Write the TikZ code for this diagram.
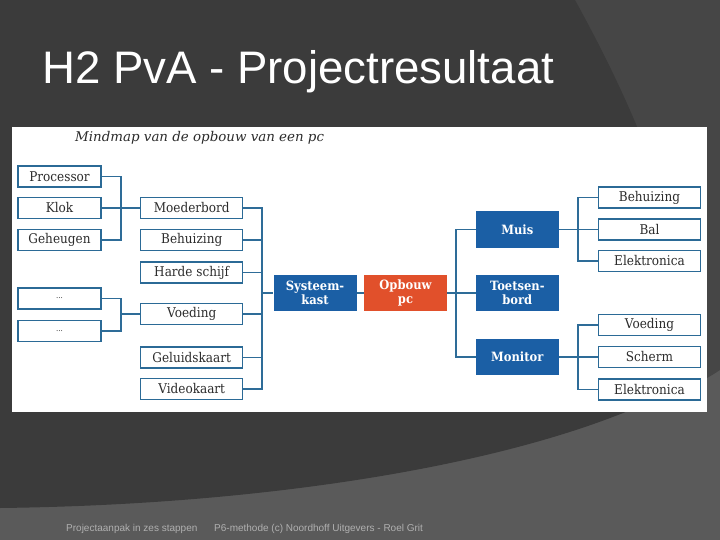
\documentclass[tikz,border=0pt]{standalone}
\usepackage{fontspec}
\setmainfont{Liberation Sans}
\newfontfamily\mmfont[FakeStretch=0.9]{DejaVu Serif}
\newfontfamily\mmtitlefont{DejaVu Serif}
\definecolor{bgdark}{HTML}{3B3B3B}
\definecolor{bgmid}{HTML}{464646}
\definecolor{bglight}{HTML}{5A5A5A}
\definecolor{boxline}{HTML}{2B6A96}
\definecolor{lineblue}{HTML}{2E6C98}
\definecolor{fillblue}{HTML}{1B5FA5}
\definecolor{fillred}{HTML}{E1502B}
\definecolor{textdark}{HTML}{2C2C2C}
\definecolor{footgray}{HTML}{B0B0B0}
\begin{document}
\begin{tikzpicture}[x=1pt,y=-1pt,
  wbox/.style={draw=boxline, line width=1.3pt, fill=white, minimum height=21pt, inner sep=0pt,
    font=\mmfont\fontsize{13.4}{14}\selectfont, text=textdark},
  lbox/.style={wbox, minimum width=83pt},
  mbox/.style={wbox, minimum width=102pt},
  cbox/.style={minimum width=83pt, minimum height=36pt, inner sep=0pt, align=center,
    font=\mmfont\bfseries\fontsize{12.8}{13.6}\selectfont, text=white},
  bbox/.style={cbox, fill=fillblue},
  rbox/.style={cbox, fill=fillred},
  conn/.style={draw=lineblue, line width=1.3pt}
]
\useasboundingbox (0,0) rectangle (720,540);
% background
\fill[bglight] (0,0) rectangle (720,540);
\fill[bgmid] (540,0) -- (720,0) -- (720,370) .. controls (690,390) and (650,405) .. (600,420) -- cycle;
\fill[bgdark] (0,0) -- (575,0) .. controls (630,100) and (690,230) .. (680,330)
  .. controls (672,380) and (650,400) .. (623,413)
  .. controls (480,470) and (250,505) .. (0,508) -- cycle;
% title
\node[anchor=base west, inner sep=0pt, text=white, font=\fontsize{45.6}{50}\selectfont] (title) at (42,83.5) {H2 PvA - Projectresultaat};
% picture
\fill[white] (12,127) rectangle (707,412);
\node[anchor=base west, inner sep=0pt, text=textdark, font=\mmtitlefont\itshape\fontsize{13.4}{15}\selectfont] (mmtitle) at (75,141.5) {Mindmap van de opbouw van een pc};
% left column
\node[lbox] (proc) at (59.5,176.5) {Processor};
\node[lbox] (klok) at (59.5,208) {Klok};
\node[lbox] (geh) at (59.5,240) {Geheugen};
\node[lbox] (d1) at (59.5,298.5) {\fontsize{8}{9}\selectfont ...};
\node[lbox] (d2) at (59.5,331) {\fontsize{8}{9}\selectfont ...};
% second column
\node[mbox] (moed) at (191.7,208) {Moederbord};
\node[mbox] (behu) at (191.7,240) {Behuizing};
\node[mbox] (hard) at (191.7,272.5) {Harde schijf};
\node[mbox] (voed) at (191.7,314) {Voeding};
\node[mbox] (geluid) at (191.7,357.5) {Geluidskaart};
\node[mbox] (video) at (191.7,389) {Videokaart};
% center
\node[bbox] (sys) at (315,293) {Systeem-\\kast};
\node[rbox, minimum width=82.4pt] (opb) at (405.5,293) {Opbouw\\pc};
% right inner
\node[bbox] (muis) at (517.3,229.5) {Muis};
\node[bbox] (toets) at (517.3,293) {Toetsen-\\bord};
\node[bbox] (mon) at (517.3,357) {Monitor};
% right column
\node[mbox] (mbeh) at (649.5,197.5) {Behuizing};
\node[mbox] (bal) at (649.5,229.5) {Bal};
\node[mbox] (mel) at (649.5,261) {Elektronica};
\node[mbox] (mvoed) at (649.5,325) {Voeding};
\node[mbox] (scherm) at (649.5,357) {Scherm};
\node[mbox] (monel) at (649.5,389.5) {Elektronica};
% junctions
\coordinate (j1) at (121,208);
\coordinate (j2) at (121,314);
\coordinate (j3) at (262,293);
\coordinate (j4) at (456,293);
\coordinate (j5) at (578,229.5);
\coordinate (j6) at (578,357);
% connectors
\draw[conn] (proc.east) -| (j1);
\draw[conn] (geh.east) -| (j1);
\draw[conn] (klok.east) -- (moed.west);
\draw[conn] (d1.east) -| (j2);
\draw[conn] (d2.east) -| (j2);
\draw[conn] (j2) -- (voed.west);
\draw[conn] (moed.east) -| (j3);
\draw[conn] (video.east) -| (j3);
\draw[conn] (behu.east) -- (behu.east -| j3);
\draw[conn] (hard.east) -- (hard.east -| j3);
\draw[conn] (voed.east) -- (voed.east -| j3);
\draw[conn] (geluid.east) -- (geluid.east -| j3);
\draw[conn] (j3) -- (sys.west);
\draw[conn] (sys.east) -- (opb.west);
\draw[conn] (opb.east) -- (j4);
\draw[conn] (muis.west) -| (j4);
\draw[conn] (mon.west) -| (j4);
\draw[conn] (j4) -- (toets.west);
\draw[conn] (muis.east) -- (bal.west);
\draw[conn] (mbeh.west) -| (j5);
\draw[conn] (mel.west) -| (j5);
\draw[conn] (mon.east) -- (scherm.west);
\draw[conn] (mvoed.west) -| (j6);
\draw[conn] (monel.west) -| (j6);
% footer
\node[anchor=base west, inner sep=0pt, text=footgray, font=\fontsize{10}{11}\selectfont] (f1) at (66,531) {Projectaanpak in zes stappen};
\node[anchor=base west, inner sep=0pt, text=footgray, font=\fontsize{10}{11}\selectfont] (f2) at (214,531) {P6-methode (c) Noordhoff Uitgevers - Roel Grit};
\end{tikzpicture}
\end{document}
